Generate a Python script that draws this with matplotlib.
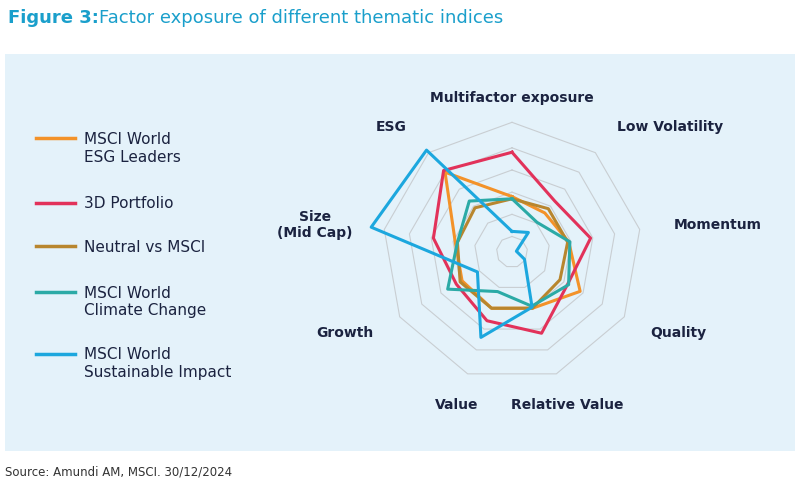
import numpy as np
import matplotlib.pyplot as plt
from matplotlib.patches import Rectangle

axes_labels = ['Multifactor exposure', 'Low Volatility', 'Momentum', 'Quality',
               'Relative Value', 'Value', 'Growth', 'Size\n(Mid Cap)', 'ESG']
series_names = ['MSCI World\nESG Leaders', '3D Portfolio', 'Neutral vs MSCI',
                'MSCI World\nClimate Change', 'MSCI World\nSustainable Impact']
esg_leaders = [2.5, 2.3, 2.6, 3.55, 2.7, 2.7, 2.6, 2.6, 4.7]
portfolio_3d = [4.5, 3.0, 3.6, 2.9, 3.9, 3.3, 2.9, 3.6, 4.8]
neutral = [2.4, 2.55, 2.55, 2.5, 2.7, 2.7, 2.7, 2.5, 2.6]
climate = [2.4, 1.75, 2.65, 2.95, 2.6, 1.9, 3.35, 2.5, 3.0]
sust_impact = [0.93, 1.15, 0.2, 0.65, 2.65, 4.1, 1.8, 6.45, 6.0]

colors = ['#F39229', '#E2325A', '#B8862E', '#2BAAA6', '#1CA7DE']
BG = '#E4F2FA'


def main():
    fig = plt.figure(figsize=(8, 4.89), dpi=100)
    fig.patch.set_facecolor('white')
    fig.patches.append(Rectangle((5 / 800, 1 - 452 / 489), 790 / 800, 397 / 489,
                                 transform=fig.transFigure, facecolor=BG,
                                 edgecolor='none', zorder=-10))
    fig.text(8 / 800, 1 - 18 / 489, 'Figure 3:', color='#1A9FCB', fontsize=13,
             fontweight='bold', va='center')
    fig.text(99 / 800, 1 - 18 / 489, 'Factor exposure of different thematic indices',
             color='#1A9FCB', fontsize=13, va='center')
    fig.text(5 / 800, 1 - 472 / 489, 'Source: Amundi AM, MSCI. 30/12/2024',
             color='#333333', fontsize=8.5, va='center')

    cx, cy, R = 512, 253, 133
    ax = fig.add_axes([(cx - R) / 800, (489 - cy - R) / 489, 2 * R / 800, 2 * R / 489],
                      projection='polar')
    ax.set_zorder(5)
    ax.set_facecolor('none')
    ax.patch.set_alpha(0)
    ax.set_theta_offset(np.pi / 2)
    ax.set_theta_direction(-1)
    ax.set_ylim(0, 6)
    ax.grid(False)
    ax.spines['polar'].set_visible(False)
    ax.set_xticks([])
    ax.set_yticks([])

    n = len(axes_labels)
    theta = np.linspace(0, 2 * np.pi, n, endpoint=False)
    tc = np.append(theta, theta[0])
    for r in [0.7, 1.7, 2.7, 3.7, 4.7, 5.85]:
        ax.plot(tc, [r] * (n + 1), color='#C9CED2', lw=0.8, zorder=1)

    all_series = [esg_leaders, portfolio_3d, neutral, climate, sust_impact]
    draw_order = [1, 0, 2, 3, 4]
    for i in draw_order:
        vals = all_series[i]
        ax.plot(tc, vals + vals[:1], color=colors[i], lw=2.2, zorder=3 + i,
                clip_on=False)

    label_r = [7.0, 7.4, 7.4, 7.2, 7.3, 7.3, 7.2, 7.3, 7.4]
    has = ['center', 'left', 'left', 'left', 'center', 'center', 'right', 'right', 'right']
    for t, lab, r, ha in zip(theta, axes_labels, label_r, has):
        ax.text(t, r, lab, ha=ha, va='center', fontsize=10, fontweight='bold',
                color='#1B2340', multialignment='center')

    # legend
    ys = [148, 204, 247, 302, 364]
    for name, col, y in zip(series_names, colors, ys):
        ly = y - 9 if '\n' in name else y
        fig.lines.append(plt.Line2D([36 / 800, 75 / 800], [1 - ly / 489] * 2,
                                    transform=fig.transFigure, color=col, lw=2.5))
        fig.text(84 / 800, 1 - y / 489, name, fontsize=11, color='#1B2340',
                 va='center', linespacing=1.25)

    fig.savefig('out.png', dpi=100, facecolor=fig.get_facecolor())


if __name__ == '__main__':
    main()
